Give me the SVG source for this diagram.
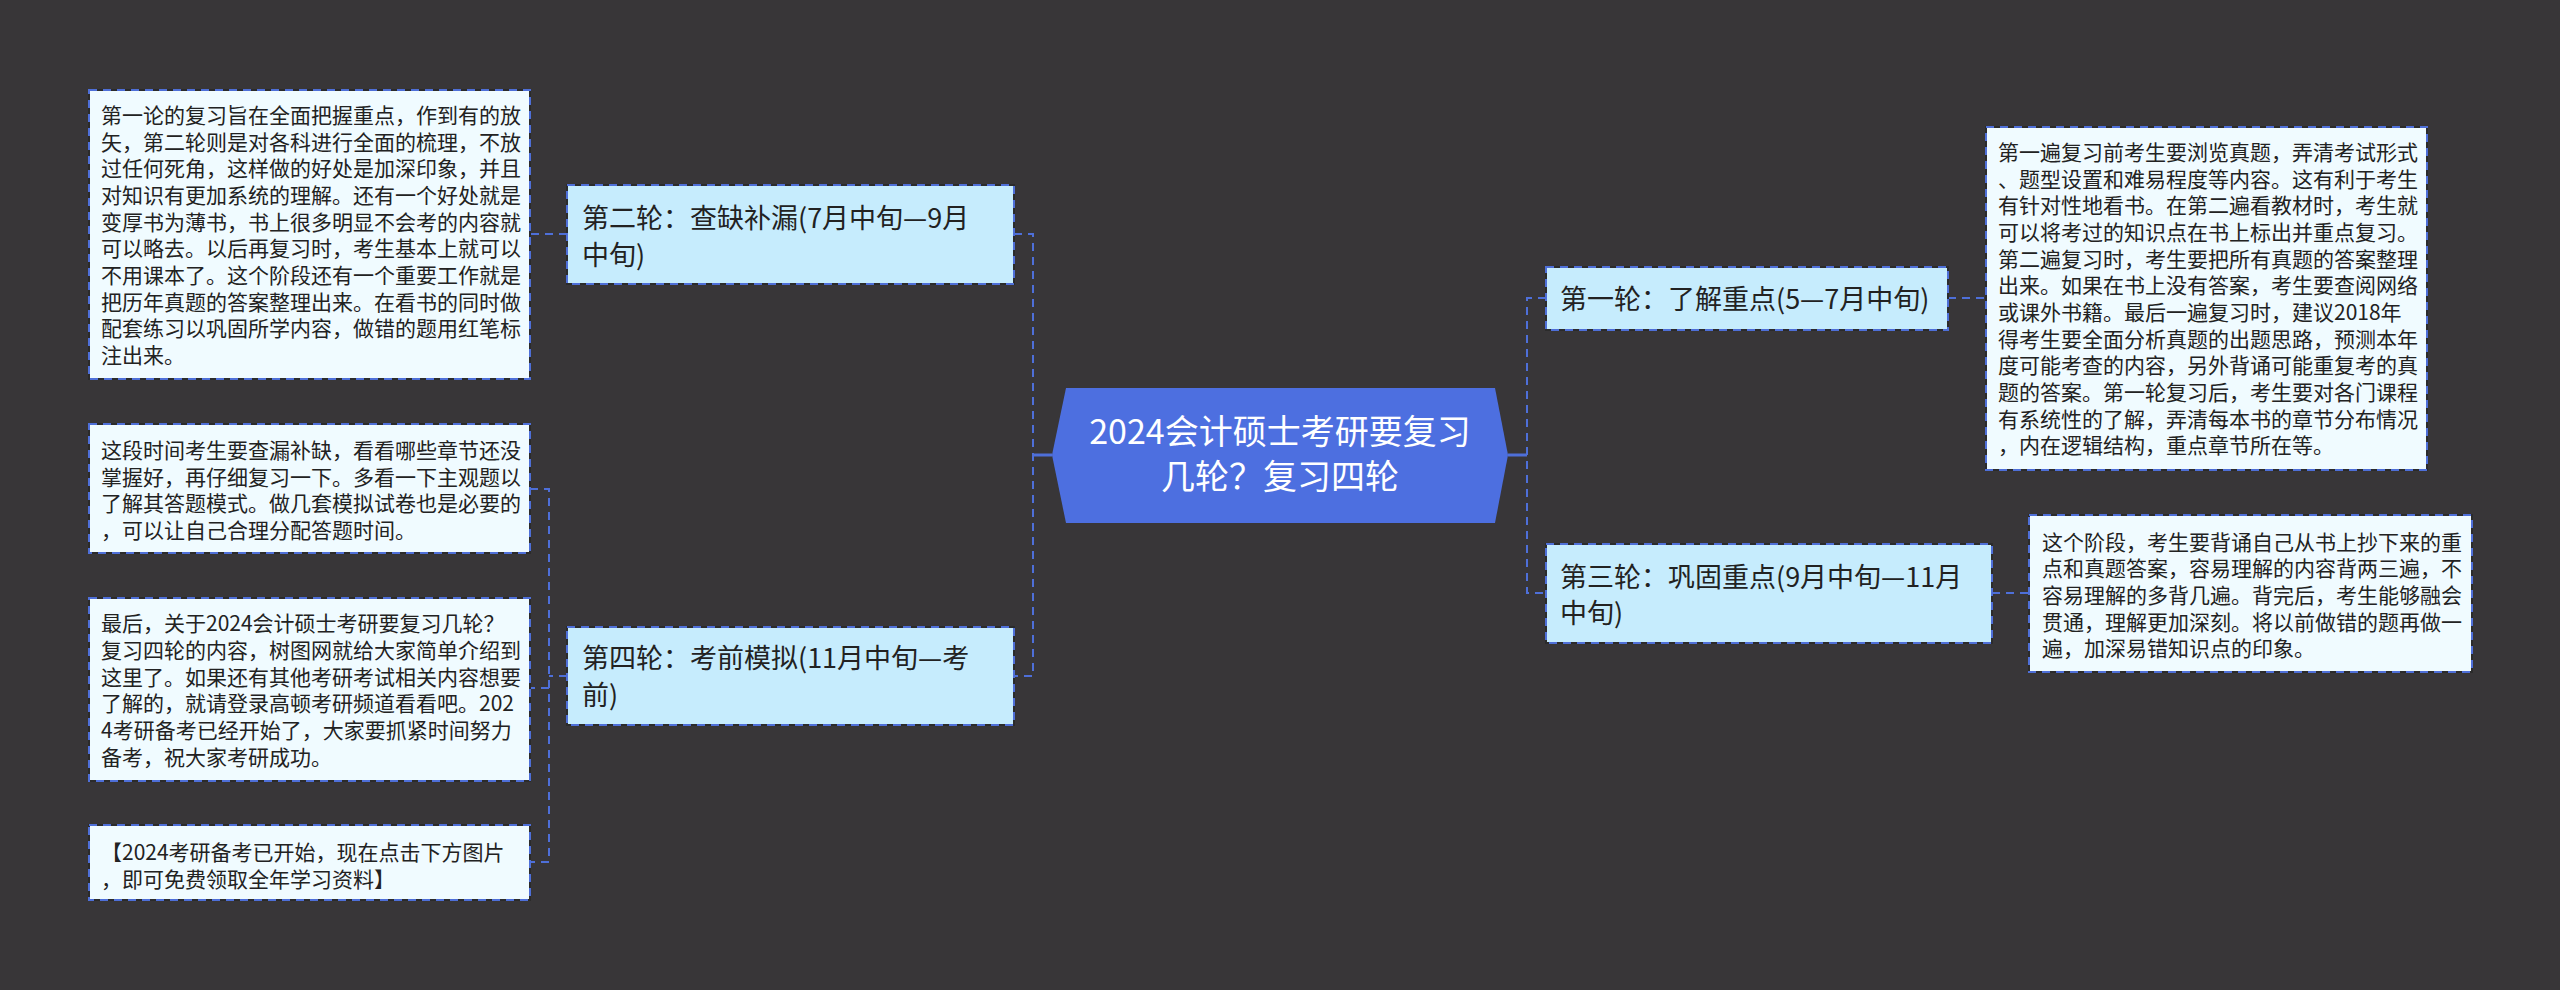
<svg xmlns="http://www.w3.org/2000/svg" width="2560" height="990" viewBox="0 0 2560 990">
<style>
.bg{fill:#383638}
.l1{fill:#c6ecfd;stroke:#2b2b2b;stroke-width:2}
.dt{fill:#f0fbff;stroke:#2b2b2b;stroke-width:2}
.dash{fill:none;stroke:#4e6fd8;stroke-width:2;stroke-dasharray:8 6}
.c{fill:none;stroke:#4e6fd8;stroke-width:2;stroke-dasharray:8 6}
.cs{fill:none;stroke:#4e6fd8;stroke-width:3}
text{font-family:"Noto Sans CJK SC","Noto Sans",sans-serif}
.t1{font-size:27px;fill:#222}
.td{font-size:21px;fill:#222}
.tc{font-size:34px;fill:#fff;text-anchor:middle}
</style>
<rect class="bg" x="0" y="0" width="2560" height="990"/>

<g id="connectors">
<path class="cs" d="M1052,455 H1033"/>
<path class="c" d="M1014,234 H1033 V676 H1014"/>
<path class="cs" d="M1508,455 H1527"/>
<path class="c" d="M1546,298 H1527 V593 H1546"/>
<path class="c" d="M567,234 H530"/>
<path class="c" d="M567,676 H549"/>
<path class="c" d="M530,489 H549 V862 H530"/>
<path class="c" d="M549,688 H530"/>
<path class="c" d="M1948,298 H1986"/>
<path class="c" d="M1992,593 H2029"/>
</g>

<g id="center">
<polygon points="1052,455 1066,388 1495,388 1508,455 1495,523 1066,523" fill="#4d6fe0"/>
<text class="tc" x="1280" y="444">2024会计硕士考研要复习</text>
<text class="tc" x="1280" y="489">几轮？复习四轮</text>
</g>

<g id="round2">
<rect class="l1" x="567" y="185" width="447" height="99"/>
<rect class="dash" x="567" y="185" width="447" height="99"/>
<text class="t1" x="582" y="228">第二轮：查缺补漏(7月中旬—9月</text>
<text class="t1" x="582" y="265">中旬)</text>
</g>

<g id="round4">
<rect class="l1" x="567" y="627" width="447" height="98"/>
<rect class="dash" x="567" y="627" width="447" height="98"/>
<text class="t1" x="582" y="668">第四轮：考前模拟(11月中旬—考</text>
<text class="t1" x="582" y="705">前)</text>
</g>

<g id="round1">
<rect class="l1" x="1546" y="267" width="402" height="63"/>
<rect class="dash" x="1546" y="267" width="402" height="63"/>
<text class="t1" x="1560" y="309">第一轮：了解重点(5—7月中旬)</text>
</g>

<g id="round3">
<rect class="l1" x="1546" y="544" width="446" height="99"/>
<rect class="dash" x="1546" y="544" width="446" height="99"/>
<text class="t1" x="1560" y="587">第三轮：巩固重点(9月中旬—11月</text>
<text class="t1" x="1560" y="623">中旬)</text>
</g>

<g id="detail-r2">
<rect class="dt" x="89" y="90" width="441" height="289"/>
<rect class="dash" x="89" y="90" width="441" height="289"/>
<text class="td" x="101" y="123">第一论的复习旨在全面把握重点，作到有的放</text>
<text class="td" x="101" y="150">矢，第二轮则是对各科进行全面的梳理，不放</text>
<text class="td" x="101" y="176">过任何死角，这样做的好处是加深印象，并且</text>
<text class="td" x="101" y="203">对知识有更加系统的理解。还有一个好处就是</text>
<text class="td" x="101" y="230">变厚书为薄书，书上很多明显不会考的内容就</text>
<text class="td" x="101" y="256">可以略去。以后再复习时，考生基本上就可以</text>
<text class="td" x="101" y="283">不用课本了。这个阶段还有一个重要工作就是</text>
<text class="td" x="101" y="310">把历年真题的答案整理出来。在看书的同时做</text>
<text class="td" x="101" y="336">配套练习以巩固所学内容，做错的题用红笔标</text>
<text class="td" x="101" y="363">注出来。</text>
</g>

<g id="detail-r4a">
<rect class="dt" x="89" y="424" width="441" height="129"/>
<rect class="dash" x="89" y="424" width="441" height="129"/>
<text class="td" x="101" y="458">这段时间考生要查漏补缺，看看哪些章节还没</text>
<text class="td" x="101" y="485">掌握好，再仔细复习一下。多看一下主观题以</text>
<text class="td" x="101" y="511">了解其答题模式。做几套模拟试卷也是必要的</text>
<text class="td" x="101" y="538">，可以让自己合理分配答题时间。</text>
</g>

<g id="detail-r4b">
<rect class="dt" x="89" y="598" width="441" height="183"/>
<rect class="dash" x="89" y="598" width="441" height="183"/>
<text class="td" x="101" y="631">最后，关于2024会计硕士考研要复习几轮？</text>
<text class="td" x="101" y="658">复习四轮的内容，树图网就给大家简单介绍到</text>
<text class="td" x="101" y="685">这里了。如果还有其他考研考试相关内容想要</text>
<text class="td" x="101" y="711">了解的，就请登录高顿考研频道看看吧。202</text>
<text class="td" x="101" y="738">4考研备考已经开始了，大家要抓紧时间努力</text>
<text class="td" x="101" y="765">备考，祝大家考研成功。</text>
</g>

<g id="detail-r4c">
<rect class="dt" x="89" y="825" width="441" height="75"/>
<rect class="dash" x="89" y="825" width="441" height="75"/>
<text class="td" x="101" y="860">【2024考研备考已开始，现在点击下方图片</text>
<text class="td" x="101" y="887">，即可免费领取全年学习资料】</text>
</g>

<g id="detail-r1">
<rect class="dt" x="1986" y="127" width="441" height="343"/>
<rect class="dash" x="1986" y="127" width="441" height="343"/>
<text class="td" x="1998" y="160">第一遍复习前考生要浏览真题，弄清考试形式</text>
<text class="td" x="1998" y="187">、题型设置和难易程度等内容。这有利于考生</text>
<text class="td" x="1998" y="213">有针对性地看书。在第二遍看教材时，考生就</text>
<text class="td" x="1998" y="240">可以将考过的知识点在书上标出并重点复习。</text>
<text class="td" x="1998" y="267">第二遍复习时，考生要把所有真题的答案整理</text>
<text class="td" x="1998" y="293">出来。如果在书上没有答案，考生要查阅网络</text>
<text class="td" x="1998" y="320">或课外书籍。最后一遍复习时，建议2018年</text>
<text class="td" x="1998" y="347">得考生要全面分析真题的出题思路，预测本年</text>
<text class="td" x="1998" y="373">度可能考查的内容，另外背诵可能重复考的真</text>
<text class="td" x="1998" y="400">题的答案。第一轮复习后，考生要对各门课程</text>
<text class="td" x="1998" y="427">有系统性的了解，弄清每本书的章节分布情况</text>
<text class="td" x="1998" y="453">，内在逻辑结构，重点章节所在等。</text>
</g>

<g id="detail-r3">
<rect class="dt" x="2029" y="515" width="443" height="157"/>
<rect class="dash" x="2029" y="515" width="443" height="157"/>
<text class="td" x="2042" y="550">这个阶段，考生要背诵自己从书上抄下来的重</text>
<text class="td" x="2042" y="576">点和真题答案，容易理解的内容背两三遍，不</text>
<text class="td" x="2042" y="603">容易理解的多背几遍。背完后，考生能够融会</text>
<text class="td" x="2042" y="630">贯通，理解更加深刻。将以前做错的题再做一</text>
<text class="td" x="2042" y="656">遍，加深易错知识点的印象。</text>
</g>
</svg>
